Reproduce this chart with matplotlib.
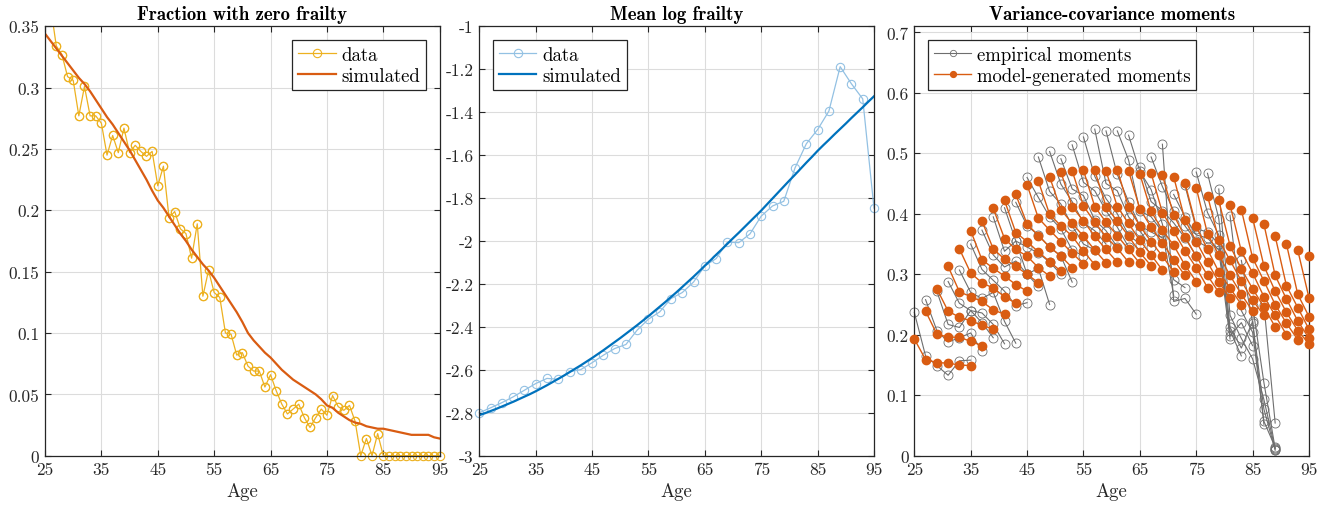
import numpy as np
import matplotlib
matplotlib.use("Agg")
import matplotlib.pyplot as plt
from matplotlib.ticker import FuncFormatter

plt.rcParams['font.family'] = ['cmr10', 'DejaVu Serif']
plt.rcParams['axes.unicode_minus'] = False
plt.rcParams['mathtext.fontset'] = 'cm'

# ---- panel 1: fraction with zero frailty (yearly) ----
ages_year = np.arange(25, 96)
zero_data = [0.385, 0.366, 0.334, 0.327, 0.309, 0.306, 0.277, 0.301, 0.277, 0.277,
             0.271, 0.245, 0.261, 0.247, 0.267, 0.247, 0.253, 0.248, 0.244, 0.248,
             0.220, 0.236, 0.194, 0.199, 0.185, 0.181, 0.161, 0.189, 0.130, 0.151,
             0.133, 0.129, 0.100, 0.099, 0.082, 0.084, 0.073, 0.069, 0.069, 0.056,
             0.066, 0.053, 0.042, 0.034, 0.038, 0.042, 0.031, 0.023, 0.031, 0.038,
             0.033, 0.049, 0.040, 0.037, 0.041, 0.028, 0.0, 0.014, 0.0, 0.018,
             0.0, 0.0, 0.0, 0.0, 0.0, 0.0, 0.0, 0.0, 0.0, 0.0, 0.0]
zero_sim = [0.344, 0.338, 0.332, 0.326, 0.320, 0.314, 0.308, 0.303, 0.297, 0.290,
            0.283, 0.276, 0.270, 0.263, 0.256, 0.249, 0.241, 0.233, 0.225, 0.216,
            0.208, 0.202, 0.195, 0.188, 0.181, 0.175, 0.168, 0.162, 0.156, 0.151,
            0.145, 0.138, 0.131, 0.124, 0.117, 0.109, 0.100, 0.094, 0.089, 0.084,
            0.080, 0.075, 0.070, 0.066, 0.062, 0.059, 0.056, 0.053, 0.050, 0.046,
            0.041, 0.039, 0.035, 0.032, 0.029, 0.027, 0.026, 0.024, 0.023, 0.022,
            0.022, 0.021, 0.020, 0.019, 0.018, 0.017, 0.017, 0.017, 0.017, 0.015,
            0.014]

# ---- panel 2: mean log frailty ----
ages_2yr = np.arange(25, 96, 2)
logf_data = [-2.800, -2.777, -2.753, -2.726, -2.695, -2.664, -2.640, -2.644, -2.609, -2.599,
             -2.567, -2.532, -2.501, -2.482, -2.415, -2.364, -2.330, -2.268, -2.240, -2.191,
             -2.116, -2.082, -2.005, -2.008, -1.967, -1.884, -1.837, -1.815, -1.659, -1.547,
             -1.481, -1.395, -1.188, -1.268, -1.338, -1.847]
logf_sim = [-2.811, -2.802, -2.792, -2.782, -2.771, -2.760, -2.749, -2.737, -2.725, -2.713,
            -2.700, -2.686, -2.672, -2.657, -2.642, -2.627, -2.611, -2.595, -2.579, -2.562,
            -2.545, -2.527, -2.509, -2.490, -2.471, -2.452, -2.432, -2.412, -2.392, -2.371,
            -2.350, -2.328, -2.306, -2.284, -2.261, -2.238, -2.214, -2.190, -2.166, -2.141,
            -2.115, -2.090, -2.064, -2.039, -2.013, -1.987, -1.962, -1.936, -1.910, -1.884,
            -1.858, -1.830, -1.802, -1.774, -1.746, -1.718, -1.691, -1.663, -1.635, -1.608,
            -1.580, -1.554, -1.529, -1.503, -1.478, -1.453, -1.427, -1.402, -1.377, -1.351,
            -1.326]

# ---- panel 3: variance-covariance moments ----
# lag k list holds values plotted at ages 25+2k, 27+2k, ... (one per chain start)
nan = np.nan
emp_lag0 = [.237, .258, .272, .288, .307, .350, .373, .395, .410, .419,
            .460, .494, .503, .491, .514, .527, .540, .537, .537, .530,
            .477, .494, .515, .432, .447, .469, .467, .441, .397, .323,
            .248, .250, .010]
emp_lag1 = [.165, .207, .217, .252, .270, .308, .332, .338, .355,
            .380, .427, .437, .449, .441, .452, .462, .450, .465, .489,
            .470, .420, .445, .255, .395, .375, .402, .392, .232, .240,
            .220, .121, .054]
emp_lag2 = [.149, .188, .212, .240, .260, .290, .312, .355,
            .345, .365, .395, .416, .420, .430, .438, .425, .438, .420,
            .405, .440, .405, .405, .260, .365, .370, .365, .212, .194,
            .204, .077, .012]
emp_lag3 = [.133, .195, .240, .236, .270, .272, .322,
            .300, .335, .345, .375, .380, .385, .390, .405, .400, .395,
            .380, .395, .383, .385, .380, .234, .360, .350, .198, .178,
            .160, .057, .009]
emp_lag4 = [.157, .203, .220, .217, .222, .248,
            .300, .310, .320, .330, .340, .350, .372, .372, .378, .365,
            .372, .370, .370, .291, .360, .355, nan, .340, .207, .220,
            .222, .093, .014]
emp_lag5 = [.158, .173, .195, .185, .186,
            .253, .280, .250, .300, .287, .330, .340, .350, .345, .345,
            .350, .345, .360, .265, .278, .330, .345, nan, .193, .165,
            .182, .052, .011]

model_lag0 = [.193, .239, .276, .313, .342, .372, .388, .409, .422, .432,
              .448, .454, .461, .469, .471, .472, .472, .471, .473, .471,
              .466, .467, .464, .461, .451, .443, .430, .422, .415, .407,
              .393, .383, .363, .350, .340, .330]
model_lag1 = [.159, .201, .239, .271, .302, .324, .342, .359, .369,
              .383, .393, .399, .407, .412, .413, .412, .412, .412, .411,
              .408, .404, .402, .398, .390, .379, .367, .357, .347, .338,
              .327, .314, .298, .281, .267, .261]
model_lag2 = [.154, .196, .229, .263, .286, .310, .325, .341,
              .354, .364, .373, .380, .384, .388, .386, .386, .388, .384,
              .380, .378, .373, .371, .362, .354, .341, .332, .323, .309,
              .302, .289, .272, .259, .245, .230]
model_lag3 = [.153, .196, .223, .255, .277, .297, .313,
              .330, .337, .345, .354, .363, .363, .363, .362, .364, .363,
              .356, .354, .352, .348, .339, .330, .320, .304, .298, .289,
              .276, .263, .250, .237, .223, .209]
model_lag4 = [.150, .189, .216, .241, .263, .283,
              .300, .311, .321, .330, .335, .338, .340, .341, .343, .341,
              .336, .332, .330, .324, .315, .311, .298, .287, .277, .267,
              .257, .246, .232, .219, .207, .194]
model_lag5 = [.149, .182, .209, .234, .252,
              .272, .286, .297, .305, .311, .317, .316, .319, .320, .320,
              .318, .314, .307, .304, .298, .288, .278, .270, .260, .250,
              .239, .232, .213, .200, .192, .185]

emp_lags = [emp_lag0, emp_lag1, emp_lag2, emp_lag3, emp_lag4, emp_lag5]
model_lags = [model_lag0, model_lag1, model_lag2, model_lag3, model_lag4, model_lag5]

C_YEL = '#EDB120'
C_ORG = '#D95C12'
C_BLU = '#0072BD'
C_LBLU = '#93C1E3'
C_GRY = '#6e6e6e'
AX_COL = '#262626'


def chains(lags):
    """returns list of (ages, values) for each chain start age"""
    out = []
    n = len(lags[0])
    for i in range(n):
        xs, ys = [], []
        for k, lag in enumerate(lags):
            if i < len(lag):
                xs.append(25 + 2 * i + 2 * k)
                ys.append(lag[i])
        out.append((np.array(xs), np.array(ys)))
    return out


def style_axes(ax, yticks, ylim, fmt):
    ax.set_xlim(25, 95)
    ax.set_ylim(*ylim)
    ax.set_xticks(np.arange(25, 96, 10))
    ax.set_yticks(yticks)
    ax.yaxis.set_major_formatter(FuncFormatter(fmt))
    ax.grid(True, color='#dcdcdc', linewidth=0.8)
    ax.set_axisbelow(True)
    ax.tick_params(direction='in', length=4.5, width=0.8, top=True, right=True,
                   labelsize=12.5, colors=AX_COL, pad=4)
    for s in ax.spines.values():
        s.set_color(AX_COL)
        s.set_linewidth(0.9)
    ax.set_xlabel('Age', fontsize=13.5, color=AX_COL, labelpad=4)


def fmt_g(v, pos):
    return '%g' % round(v, 3)


def leg(ax, loc, **kw):
    lg = ax.legend(loc=loc, fontsize=13.5, fancybox=False, framealpha=1,
                   edgecolor=AX_COL, handlelength=2.0, handletextpad=0.3,
                   borderpad=0.3, labelspacing=0.15, borderaxespad=0.75, **kw)
    lg.get_frame().set_linewidth(0.9)


fig = plt.figure(figsize=(13.28, 5.06), dpi=100)
W, H = 1328, 506
bottom = (H - 456.7) / H
height = 429.4 / H
width = 394.7 / W
ax1 = fig.add_axes([45 / W, bottom, width, height])
ax2 = fig.add_axes([479.3 / W, bottom, width, height])
ax3 = fig.add_axes([914.3 / W, bottom, width, height])

# panel 1
zd = np.array(zero_data)
ax1.plot(ages_year, zd, color=C_YEL, lw=0.9, marker='o', ms=6, mfc='none',
         mew=0.8, label='data')
inside = zd <= 0.35
ax1.plot(ages_year[inside], zd[inside], ls='none', color=C_YEL, marker='o', ms=6,
         mfc='none', mew=0.8, clip_on=False)
ax1.plot(ages_year, zero_sim, color=C_ORG, lw=1.6, label='simulated')
style_axes(ax1, np.arange(0, 0.351, 0.05), (0, 0.35), fmt_g)
ax1.set_title('Fraction with zero frailty', fontsize=13.5, family='cmb10', pad=5)
leg(ax1, 'upper right')

# panel 2
ax2.plot(ages_2yr, logf_data, color=C_LBLU, lw=0.9, marker='o', ms=6, mfc='none',
         mew=0.8, label='data', clip_on=False)
ax2.plot(ages_year, logf_sim, color=C_BLU, lw=1.6, label='simulated')
style_axes(ax2, np.arange(-3, -0.99, 0.2), (-3, -1), fmt_g)
ax2.set_title('Mean log frailty', fontsize=13.5, family='cmb10', pad=5)
leg(ax2, 'upper left')

# panel 3
for j, (xs, ys) in enumerate(chains(emp_lags)):
    ax3.plot(xs, ys, color=C_GRY, lw=0.8, marker='o', ms=6.5, mfc='none', mew=0.6,
             clip_on=False, label='empirical moments' if j == 0 else None, zorder=2)
for j, (xs, ys) in enumerate(chains(model_lags)):
    ax3.plot(xs, ys, color=C_ORG, lw=1.0, marker='o', ms=6, mfc=C_ORG, mec=C_ORG,
             clip_on=False, label='model-generated moments' if j == 0 else None, zorder=3)
style_axes(ax3, np.arange(0, 0.71, 0.1), (0, 0.71), fmt_g)
ax3.set_title('Variance-covariance moments', fontsize=13.5, family='cmb10', pad=5)
leg(ax3, 'upper left', markerscale=0.7)

fig.savefig('out.png', dpi=100, facecolor='white')
